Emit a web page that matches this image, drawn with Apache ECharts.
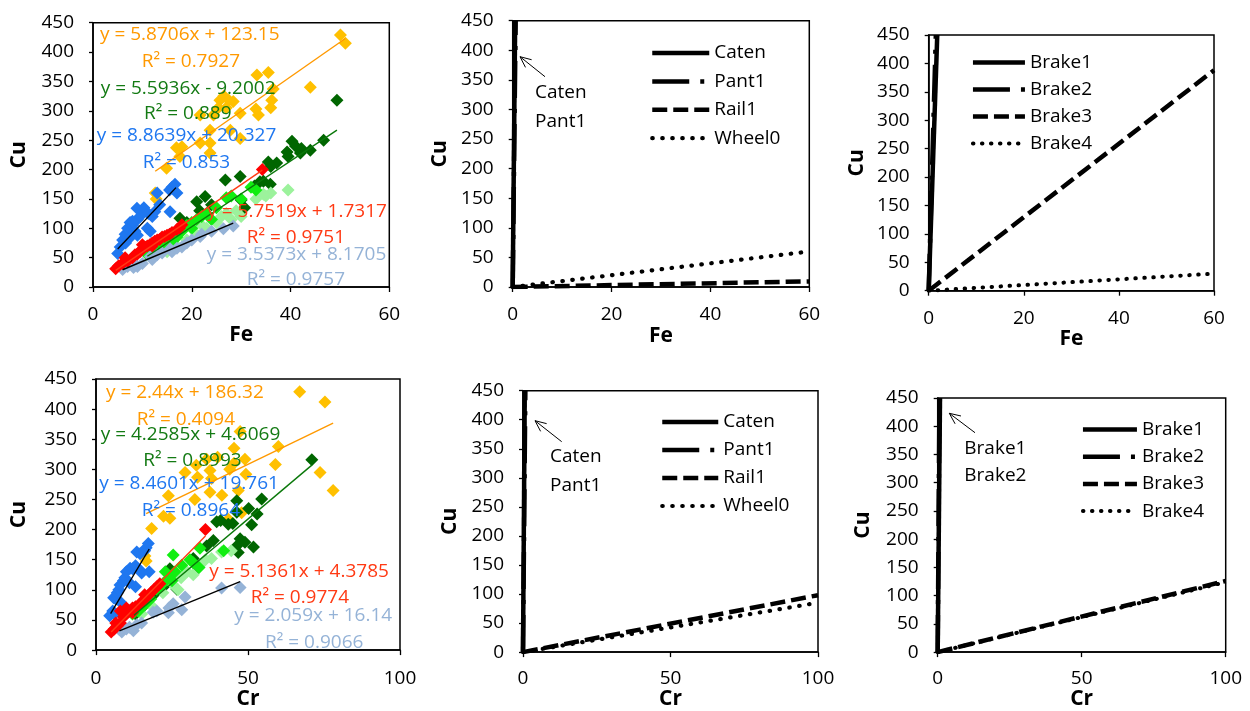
<!DOCTYPE html>
<html><head><meta charset="utf-8">
<script src="https://cdn.jsdelivr.net/npm/echarts@6/dist/echarts.min.js"></script>
<style>html,body{margin:0;padding:0;background:#fff}#c{width:1250px;height:711px}</style>
</head><body><div id="c"></div><script>
// ---------------- DATA ----------------
// Panel 1: Cu vs Fe scatter groups
const goldFe = [[50.1,429],[51.1,415],[44,340],[33.2,361],[35.5,365],[36.5,337],[36.2,318],[36,305],[33.5,293],[33,303],[29.8,296],[28.4,316],[27.5,318],[25.7,318],[25.4,305],[24.4,293],[21.7,293],[23.7,267],[27.8,267],[29.8,253],[21.7,245],[23.7,245],[23.7,228],[18,239],[16.9,237],[17.6,222],[14.9,202],[12.6,160],[12.8,150],[27,305],[26.5,325]];
const dkgreenFe = [[49.4,318],[46.7,250],[44,233],[42,228],[42.2,236],[40.3,248],[39.3,230],[37.2,211],[35.5,213],[33.8,179],[35.9,175],[32.7,172],[29.8,188],[26.8,182],[22.7,154],[21,145],[21.6,130],[17.6,117],[30,148],[30.7,135],[39.5,222],[41,240],[34.5,180],[36,205],[24,140],[19,110],[15,85],[13,65],[11.5,57]];
const blueFe = [[5,57],[5.5,68],[6,80],[6.5,90],[7,100],[7.5,110],[8,105],[8.5,95],[9,115],[9.5,120],[10,130],[10.3,135],[11,100],[11.2,125],[11.6,95],[12,120],[12.5,128],[13,160],[13.5,140],[15.5,165],[16,170],[16.6,175],[17,160],[15.6,128],[6.6,75],[7.6,85],[8,112],[9,88],[8.9,134]];
const paleFe = [[15,60],[17,70],[19,80],[21,90],[23,100],[25,110],[26,120],[27,125],[28,115],[30,120],[33,150],[35,155],[36,160],[39.5,165],[22,105],[29,130],[34.5,158]];
const limeFe = [[11,55],[12,60],[13,65],[14,70],[15,75],[16,80],[17,85],[18,95],[19,105],[20,110],[21,115],[22,120],[23,125],[25,135],[27,152],[28,155],[30,150],[32,170],[33,165],[20,100],[24,115],[16,72]];
const grayFe = [[6,30],[7,35],[8.2,33],[8.5,38],[9,35],[10,40],[11.6,52],[12,47],[13,55],[14,58],[15.6,65],[16,60],[17,66],[18,68],[20,80],[21.7,86],[24,95],[26.4,99],[28.4,104],[19,75],[22,90]];
const redFe = [[4.6,31],[5.2,36],[6,40],[6.6,45],[7,44],[8,50],[8.5,55],[9,56],[9.5,60],[10,65],[10.5,68],[11,70],[11.5,72],[12,75],[12.5,78],[13,80],[13.5,81],[14,85],[14.5,86],[15,88],[15.5,90],[16,93],[17,98],[17.5,100],[18,106],[34.3,200],[6.5,50],[10,72],[12,70]];
// Panel 1 trendline end points (from the printed equations)
const trendGoldFe = [[12.6,197.1],[51.1,423.1]];
const trendDkgreenFe = [[11,52.3],[49.4,267.1]];
const trendBlueFe = [[5,64.6],[16.8,169.2]];
const trendRedFe = [[4.6,28.2],[34.3,199.0]];
const trendGrayFe = [[6,29.4],[28.4,108.6]];
const eqTextFe = ['y = 5.8706x + 123.15','R² = 0.7927','y = 5.5936x - 9.2002','R² = 0.889','y = 8.8639x + 20.327','R² = 0.853','y = 5.7519x + 1.7317','R² = 0.9751','y = 3.5373x + 8.1705','R² = 0.9757'];

// Panel 4: Cu vs Cr scatter groups
const goldCr = [[67,429],[75.3,412],[78,265],[73.7,295],[60,338],[59,308],[47.4,363],[45.4,335],[49,317],[49.3,292],[45.4,310],[36.4,317],[37.5,298],[33,307],[29.3,295],[33.4,287],[37.5,262],[41.4,257],[32.5,250],[23.8,256],[22.2,222],[24.3,219],[18.3,202],[43.5,217],[47.9,228],[16.1,156],[16.5,148],[46.8,265],[40,320],[44,300],[38,285]];
const dkgreenCr = [[71,316],[54.5,251],[53,226],[50.2,235],[51.2,208],[46.3,248],[46.3,229],[43.5,209],[39.7,213],[47.4,185],[46.3,173],[49,179],[51.8,171],[46.8,162],[38.6,182],[36.4,173],[32,152],[33.6,137],[24.3,135],[22.2,105],[26.6,101],[41,215],[45,210],[13,60],[16,75],[19,92]];
const blueCr = [[4.5,57],[5.5,65],[5.8,87],[6.5,85],[7,95],[7.5,100],[7.9,108],[9,115],[9.5,120],[10,130],[11.2,136],[12,135],[13,140],[13.4,163],[14.5,160],[15,130],[16,165],[16.5,170],[17.2,177],[17.5,130],[13,105],[8,80],[6,60],[11,112],[15,128]];
const paleCr = [[15,60],[18,75],[22,95],[25,110],[28,120],[30,130],[34,140],[38,152],[41.3,163],[44.5,165],[36,150],[27,100],[32,125]];
const limeCr = [[12,60],[14,65],[16,75],[18,85],[20,100],[22,110],[24,120],[25.4,158],[28.2,141],[30.9,150],[33.9,137],[34.2,169],[22.8,130],[26,130],[42,165],[32,145],[25,115]];
const grayCr = [[7.7,34],[8.5,30],[10,35],[12.3,32],[13.4,42],[15,45],[18.8,63],[20,65],[23.8,62],[25.4,77],[24,70],[28.2,67],[29.3,88],[41.3,103],[47.4,104],[11,38]];
const redCr = [[5,30],[6,35],[7,40],[8,45],[9,55],[10,60],[11,65],[12,70],[13,72],[14,75],[15,80],[16,85],[17,90],[18,95],[19,100],[20,105],[21,110],[36,200],[8,65],[10,70],[6.5,45],[12,62],[16,92]];
const trendGoldCr = [[16.5,226.6],[78,376.6]];
const trendDkgreenCr = [[12.5,57.8],[71,307.0]];
const trendBlueCr = [[4.8,60.4],[17.5,167.8]];
const trendRedCr = [[5,30.1],[36,189.3]];
const trendGrayCr = [[7.7,32.0],[47.4,113.7]];
const eqTextCr = ['y = 2.44x + 186.32','R² = 0.4094','y = 4.2585x + 4.6069','R² = 0.8993','y = 8.4601x + 19.761','R² = 0.8964','y = 5.1361x + 4.3785','R² = 0.9774','y = 2.059x + 16.14','R² = 0.9066'];

// Panels 2,3,5,6: source ratio lines
const srcNames = ['Caten','Pant1','Rail1','Wheel0'];
const brakeNames = ['Brake1','Brake2','Brake3','Brake4'];
const srcFe = [[[0,0],[0.5,450]],[[0,0],[0.6,450]],[[0,0],[60,9.5]],[[0,0],[60,60]]];
const brakeFe = [[[0,0],[1.8,450]],[[0,0],[1.5,450]],[[0,0],[60,388]],[[0,0],[60,30]]];
const srcCr = [[[0,0],[0.6,450]],[[0,0],[0.8,450]],[[0,0],[100,98]],[[0,0],[100,85]]];
const brakeCr = [[[0,0],[0.8,450]],[[0,0],[0.6,450]],[[0,0],[100,126]],[[0,0],[100,124]]];
const yTicks = [0,450,50];

// ---------------- LAYOUT / STYLE ----------------
const FONT = '"Open Sans", "Liberation Sans", sans-serif';
const C = {gold:'#FFC000', dkgreen:'#006600', blue:'#1F77F0', pale:'#9CF29C', lime:'#11EE11', gray:'#95B3D7', red:'#FF0000',
  tOrange:'#FF9900', tGreen:'#137A13', tBlue:'#1F77F0', tRed:'#FF3A14', tGray:'#95B3D7'};

const panels = [
  {grid:{left:93,top:22.7,width:296.3,height:264.3}, xName:'Fe', xMax:60, xInt:20, xGap:38, yGap:63, xMargin:18},
  {grid:{left:512.7,top:20.7,width:296.6,height:266.3}, xName:'Fe', xMax:60, xInt:20, xGap:38.5, yGap:62, xMargin:18},
  {grid:{left:928.7,top:35,width:285.3,height:255.7}, xName:'Fe', xMax:60, xInt:20, xGap:37, yGap:61.5, xMargin:18},
  {grid:{left:96,top:379,width:304,height:273.7}, xName:'Cr', xMax:100, xInt:50, xGap:38, yGap:66, xMargin:19},
  {grid:{left:523,top:390.7,width:295,height:264.3}, xName:'Cr', xMax:100, xInt:50, xGap:36, yGap:62.5, xMargin:17},
  {grid:{left:937.7,top:398,width:288,height:258}, xName:'Cr', xMax:100, xInt:50, xGap:35, yGap:64, xMargin:17}
];

const grids = panels.map(p => Object.assign({show:true, borderColor:'#000', borderWidth:1.5, backgroundColor:'transparent'}, p.grid));
const xAxes = panels.map((p,i) => ({
  type:'value', gridIndex:i, min:0, max:p.xMax, interval:p.xInt,
  name:p.xName, nameLocation:'middle', nameGap:p.xGap,
  nameTextStyle:{fontFamily:FONT, fontSize:21, fontWeight:'bold', color:'#000'},
  axisLine:{show:true, onZero:false, lineStyle:{color:'#000', width:1.5}},
  axisTick:{show:true, inside:false, length:5, lineStyle:{color:'#000', width:1.3}},
  axisLabel:{color:'#000', fontFamily:FONT, fontSize:19, margin:p.xMargin, showMinLabel:true, showMaxLabel:true},
  splitLine:{show:false}
}));
const yAxes = panels.map((p,i) => ({
  type:'value', gridIndex:i, min:yTicks[0], max:yTicks[1], interval:yTicks[2],
  name:'Cu', nameLocation:'middle', nameGap:p.yGap,
  nameTextStyle:{fontFamily:FONT, fontSize:21, fontWeight:'bold', color:'#000'},
  axisLine:{show:true, onZero:false, lineStyle:{color:'#000', width:1.5}},
  axisTick:{show:true, inside:false, length:4, lineStyle:{color:'#000', width:1.3}},
  axisLabel:{color:'#000', fontFamily:FONT, fontSize:19, margin:19, showMinLabel:true, showMaxLabel:true},
  splitLine:{show:false}
}));

const series = [];
function scat(name, data, color, gi){
  series.push({type:'scatter', name, data, xAxisIndex:gi, yAxisIndex:gi, symbol:'diamond', symbolSize:13,
    itemStyle:{color, opacity:1}, silent:true, z:2});
}
function trend(name, data, color, gi){
  series.push({type:'line', name, data, xAxisIndex:gi, yAxisIndex:gi, symbol:'none', showSymbol:false,
    lineStyle:{color, width:1.4}, itemStyle:{color}, silent:true, z:3});
}
[[0,[goldFe,dkgreenFe,blueFe,paleFe,limeFe,grayFe,redFe],[trendGoldFe,trendDkgreenFe,trendBlueFe,trendRedFe,trendGrayFe]],
 [3,[goldCr,dkgreenCr,blueCr,paleCr,limeCr,grayCr,redCr],[trendGoldCr,trendDkgreenCr,trendBlueCr,trendRedCr,trendGrayCr]]].forEach(([gi,groups,trends])=>{
  const cols=[C.gold,C.dkgreen,C.blue,C.pale,C.lime,C.gray,C.red];
  groups.forEach((g,k)=>scat('g'+gi+'_'+k, g, cols[k], gi));
  const tcols=[C.tOrange,'#0A780A','#000',C.tRed,'#000'];
  trends.forEach((t,k)=>trend('t'+gi+'_'+k, t, tcols[k], gi));
});

const lineStyles = [
  {type:'solid', width:4.5},
  {type:[37,11,4,11], width:4.5},
  {type:[15,6], width:4.5},
  {type:[0.5,9.5], width:4.2, cap:'round'}
];
const lineStylesB = [
  {type:'solid', width:4.5},
  {type:[37,11,4,11], width:4.5},
  {type:[15,6], width:4.5},
  {type:[0.5,8.5], width:4, cap:'round'}
];
function srcLines(names, sets, gi, styles){
  names.forEach((n,k)=>{
    series.push({type:'line', name:n, data:sets[k], xAxisIndex:gi, yAxisIndex:gi, symbol:'none', showSymbol:false,
      lineStyle:Object.assign({color:'#000'}, styles[k]), itemStyle:{color:'#000'}, silent:true, z:3});
  });
}
srcLines(srcNames, srcFe, 1, lineStyles);
srcLines(brakeNames, brakeFe, 2, lineStylesB);
srcLines(srcNames, srcCr, 4, lineStyles);
srcLines(brakeNames, brakeCr, 5, lineStylesB);

function mkLegend(names, styles, left, top, w, gap){
  return {show:true, orient:'vertical', left, top, itemWidth:w, itemHeight:14, itemGap:gap, selectedMode:false,
    padding:0, textStyle:{fontFamily:FONT, fontSize:19, color:'#000', padding:[0,0,0,0]},
    data:names.map((n,k)=>({name:n,
      itemStyle:{color:'rgba(0,0,0,0)', borderColor:'rgba(0,0,0,0)', borderWidth:0, opacity:0},
      lineStyle:Object.assign({color:'#000', opacity:1}, styles[k])}))};
}
const legends = [
  mkLegend(srcNames, lineStyles, 650, 43.5, 57, 9.4),
  mkLegend(brakeNames, lineStylesB, 970.7, 53, 52, 8),
  mkLegend(srcNames, lineStyles, 660, 412.5, 56, 9),
  mkLegend(brakeNames, lineStylesB, 1080.7, 420, 54, 8.2)
];

// equation annotation positions [left, centerY]
const eqPosFe = [[100,35],[141.7,61.7],[100.7,88.3],[144,114],[96.7,136],[142.7,162.3],[207.3,211.7],[246.7,237.3],[206.7,255],[246.7,280]];
const eqPosCr = [[106,392.3],[136.7,419.3],[100.7,435],[143.3,461],[99.3,483.3],[141.7,510.7],[209.3,571.7],[250.7,597.7],[234.3,616],[265,642.7]];
const eqCols = [C.tOrange,C.tOrange,C.tGreen,C.tGreen,C.tBlue,C.tBlue,C.tRed,C.tRed,C.tGray,C.tGray];
const graphics = [];
function txt(t, x, y, color){
  graphics.push({type:'text', x, y, z:100, silent:true,
    style:{text:t, fill:color, font:'19px '+FONT, verticalAlign:'middle', align:'left'}});
}
eqTextFe.forEach((t,k)=>txt(t, eqPosFe[k][0], eqPosFe[k][1], eqCols[k]));
eqTextCr.forEach((t,k)=>txt(t, eqPosCr[k][0], eqPosCr[k][1], eqCols[k]));

// arrows and labels for near-vertical lines
function arrow(x1,y1,x2,y2){
  const a=Math.atan2(y1-y2,x1-x2), L=12, s=0.42;
  graphics.push({type:'line', silent:true, z:100, shape:{x1,y1,x2,y2}, style:{stroke:'#000', lineWidth:1}});
  graphics.push({type:'polyline', silent:true, z:100, shape:{points:[[x2+L*Math.cos(a+s),y2+L*Math.sin(a+s)],[x2,y2],[x2+L*Math.cos(a-s),y2+L*Math.sin(a-s)]]}, style:{stroke:'#000', lineWidth:1, fill:null}});
}
arrow(545,76.7,520,56.7);
txt('Caten',535,93,'#000'); txt('Pant1',535,122,'#000');
arrow(561.7,441.7,535,420.7);
txt('Caten',550,457,'#000'); txt('Pant1',550,486,'#000');
arrow(975,432.7,949.3,413.3);
txt('Brake1',964.3,448.3,'#000'); txt('Brake2',964.3,476,'#000');

const chart = echarts.init(document.getElementById('c'), null, {renderer:'canvas'});
chart.setOption({
  animation:false, backgroundColor:'#fff',
  grid:grids, xAxis:xAxes, yAxis:yAxes, series, legend:legends, graphic:graphics
});
</script></body></html>
